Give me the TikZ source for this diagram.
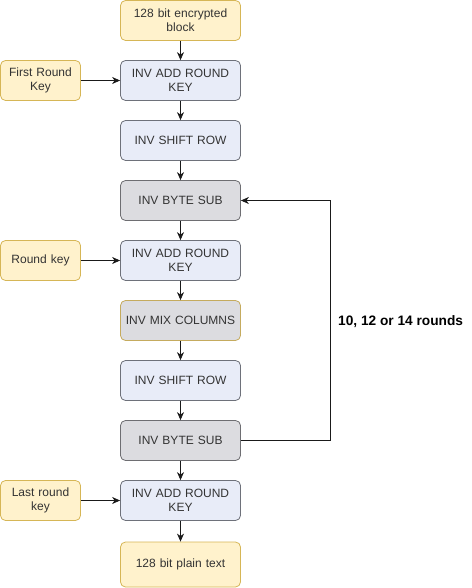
\documentclass[tikz,border=0pt]{standalone}
\usepackage{fontspec}
\setmainfont{Liberation Sans}
\usetikzlibrary{arrows.meta}
\definecolor{yfill}{HTML}{FFF2CC}
\definecolor{yline}{HTML}{D6B656}
\definecolor{bfill}{HTML}{E8ECF8}
\definecolor{bline}{HTML}{6E717A}
\definecolor{gfill}{HTML}{DCDCE0}
\definecolor{gline}{HTML}{6E6E72}
\definecolor{txt}{HTML}{333333}
\definecolor{wire}{HTML}{1A1A1A}
\begin{document}
\begin{tikzpicture}[x=1pt,y=-1pt,
  base/.style={rounded corners=5pt, line width=0.8pt, align=center, text=txt,
    font=\fontsize{12}{14}\selectfont, inner sep=0pt},
  mainbox/.style={base, minimum width=120pt, minimum height=40pt, text width=118pt},
  keybox/.style={base, minimum width=80pt, minimum height=40pt, text width=78pt, draw=yline, fill=yfill},
  yel/.style={mainbox, draw=yline, fill=yfill},
  blu/.style={mainbox, draw=bline, fill=bfill},
  gry/.style={mainbox, draw=gline, fill=gfill},
  mix/.style={mainbox, draw=yline!80!gray, fill=gfill},
  conn/.style={wire, line width=0.8pt, -{Stealth[length=8pt,width=7pt,inset=2.5pt]}}
]
\useasboundingbox (0,0) rectangle (471,588);
\node[yel] (enc) at (180.5,20.5) {128 bit encrypted\\block};
\node[blu] (ark1) at (180.5,80.5) {INV ADD ROUND\\KEY};
\node[blu] (sr1) at (180.5,140.5) {INV SHIFT ROW};
\node[gry] (bs1) at (180.5,200.5) {INV BYTE SUB};
\node[blu] (ark2) at (180.5,260.5) {INV ADD ROUND\\KEY};
\node[mix] (mc) at (180.5,320.5) {INV MIX COLUMNS};
\node[blu] (sr2) at (180.5,380.5) {INV SHIFT ROW};
\node[gry] (bs2) at (180.5,440.5) {INV BYTE SUB};
\node[blu] (ark3) at (180.5,500.5) {INV ADD ROUND\\KEY};
\node[yel, minimum height=45pt] (pt) at (180.5,564.5) {128 bit plain text};
\node[keybox] (k1) at (40.5,80.5) {First Round\\Key};
\node[keybox] (k2) at (40.5,260.5) {Round key};
\node[keybox] (k3) at (40.5,500.5) {Last round\\key};
\node[font=\bfseries\fontsize{13.7}{15}\selectfont, text=black, anchor=west, inner sep=0pt] (lbl) at (338,322) {10, 12 or 14 rounds};
\coordinate (c1) at (330.5,440.5);
\coordinate (c2) at (330.5,200.5);
\draw[conn] (enc) -- (ark1);
\draw[conn] (ark1) -- (sr1);
\draw[conn] (sr1) -- (bs1);
\draw[conn] (bs1) -- (ark2);
\draw[conn] (ark2) -- (mc);
\draw[conn] (mc) -- (sr2);
\draw[conn] (sr2) -- (bs2);
\draw[conn] (bs2) -- (ark3);
\draw[conn] (ark3) -- (pt);
\draw[conn] (k1) -- (ark1);
\draw[conn] (k2) -- (ark2);
\draw[conn] (k3) -- (ark3);
\draw[conn] (bs2.east) -- (c1) -- (c2) -- (bs1.east);
\end{tikzpicture}
\end{document}
